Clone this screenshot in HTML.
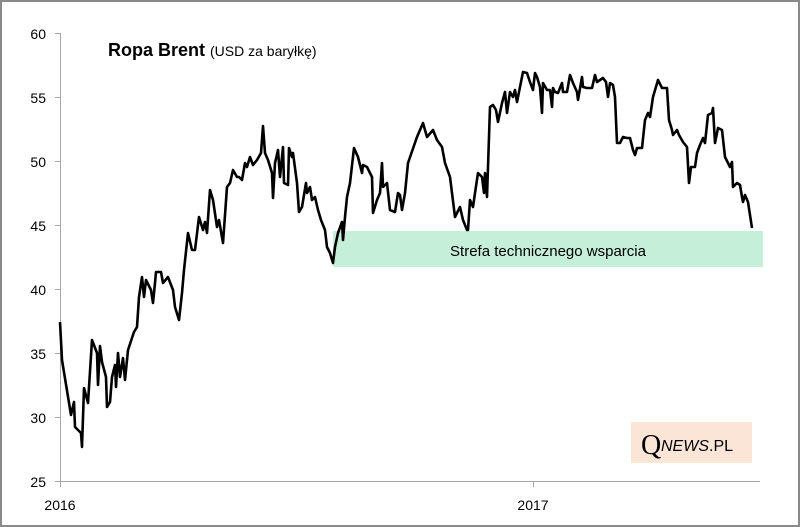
<!DOCTYPE html>
<html><head><meta charset="utf-8"><style>
html,body{margin:0;padding:0;background:#fff}
svg{display:block}
text{font-family:"Liberation Sans",sans-serif;fill:#000}
</style></head><body>
<svg width="800" height="527" viewBox="0 0 800 527" xmlns="http://www.w3.org/2000/svg">
<rect x="1" y="1" width="798" height="525" fill="#fff" stroke="#8a8a8a" stroke-width="2"/>
<rect x="333" y="231" width="430" height="36" fill="#c6efda"/>
<text x="548" y="256" font-size="15" text-anchor="middle">Strefa technicznego wsparcia</text>
<g stroke="#a6a6a6" stroke-width="1" fill="none">
<line x1="60.5" y1="33" x2="60.5" y2="481"/>
<line x1="60" y1="481.5" x2="760" y2="481.5"/>
<line x1="55" y1="33.5" x2="60" y2="33.5"/>
<line x1="55" y1="97.5" x2="60" y2="97.5"/>
<line x1="55" y1="161.5" x2="60" y2="161.5"/>
<line x1="55" y1="225.5" x2="60" y2="225.5"/>
<line x1="55" y1="289.5" x2="60" y2="289.5"/>
<line x1="55" y1="353.5" x2="60" y2="353.5"/>
<line x1="55" y1="417.5" x2="60" y2="417.5"/>
<line x1="55" y1="481.5" x2="60" y2="481.5"/>
<line x1="60.5" y1="481" x2="60.5" y2="487"/>
<line x1="533.5" y1="481" x2="533.5" y2="487"/>
</g>
<g font-size="14" text-anchor="end">
<text x="46" y="39">60</text><text x="46" y="103">55</text><text x="46" y="167">50</text>
<text x="46" y="231">45</text><text x="46" y="295">40</text><text x="46" y="359">35</text>
<text x="46" y="423">30</text><text x="46" y="487">25</text>
</g>
<text x="60" y="510" font-size="14" text-anchor="middle">2016</text>
<text x="533" y="510" font-size="14" text-anchor="middle">2017</text>
<text x="108" y="56" font-size="18" font-weight="bold">Ropa Brent <tspan font-weight="normal" font-size="14">(USD za baryłkę)</tspan></text>
<polyline fill="none" stroke="#000" stroke-width="2.6" stroke-linejoin="round" points="
60,322 62,360 71,415 74,402 75,427 81,433 82,447 84,388 88,403 92,340 97,353 98,385 100,346 102,362 106,377 107,407 110,402 112,377 115,365 116,387 118,353 120,377 123,358 125,380 128,350 134,332 137,327 139,297 142,277 144,297 146,280 151,290 153,303 155,283 156,272 161,272 163,283 168,277 173,290 175,307 179,320 182,293 184,270
188,233 192,250 195,250 199,217 203,230 205,222 207,233 210,190 213,200 217,227 219,220 223,243 227,187 230,183 233,170 237,177 239,177 242,180 245,163 247,167 250,157 253,165 257,160 261,153 263,126 265,153 268,160 272,173 273,198 275,163 278,150 280,177 283,147 284,183 288,185 289,148 292,157 293,153 297,183 299,212 302,207 306,183 307,193 310,187 312,200 315,197 318,210 321,220 325,230 327,247 330,253 333,263 335,247 338,233 342,222 343,240 345,217 347,197 350,183 354,148 358,157 362,173 363,165 367,167 372,177 373,213 377,200 380,193 382,163 383,187 387,183 390,210 395,212 398,193 400,195
402,210 405,193 408,163 417,137 420,130 423,123 427,137 433,130 437,140 442,147 445,163 450,177 455,217 460,207 463,220 467,230 468,230 470,200 473,207 475,193 478,173 482,177 484,193 485,173 487,197 490,107 493,105 496,110 498,122 502,103 505,92 507,113 510,92 513,97 515,90 517,102 520,87 523,72 527,73 530,82 533,90 535,73 537,77 540,87 542,113 543,83 547,90 550,90 552,107 553,88 555,92 558,93 562,83 563,92 567,92 570,75 573,83 577,92 578,100 582,77 583,87 587,88 592,88 595,75 597,82 600,80 603,78 606,82 608,97 610,83 613,85 615,97 617,143 620,143 623,137 627,138 630,138 633,150 635,155 637,148 642,148 645,120 648,113 650,117 653,97 658,80 662,88 667,88 669,120 672,130 673,135 677,130 679,135 683,142 687,147 689,183 691,167 695,167 697,153 700,145 703,138 705,143 708,115 712,113 713,108 715,143 718,128 722,130 725,157 730,167 732,162 733,187 737,183 740,185 742,197 743,202 745,195 748,202 752,228"/>
<rect x="631" y="422" width="121" height="41" fill="#fbe5d6"/>
<text x="641" y="454" font-size="28" style="font-family:'Liberation Serif',serif">Q</text>
<text x="661" y="451" font-size="16"><tspan font-style="italic">NEWS</tspan>.PL</text>
</svg>
</body></html>
